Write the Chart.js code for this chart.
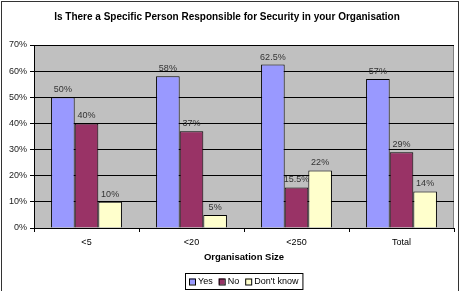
<!DOCTYPE html>
<html>
<head>
<meta charset="utf-8">
<style>
  html, body { margin: 0; padding: 0; background: #fff; }
  #wrap { position: relative; width: 463px; height: 291px; }
</style>
<script src="https://cdn.jsdelivr.net/npm/chart.js@4.4.0/dist/chart.umd.min.js"></script>
</head>
<body>
<div id="wrap"><canvas id="chart" width="463" height="291"></canvas></div>
<script>
// Organisation size groups
const categories = ['<5', '<20', '<250', 'Total'];
const seriesNames = ['Yes', 'No', "Don't know"];
const yesValues = [50, 58, 62.5, 57];
const noValues = [40, 37, 15.5, 29];
const dontKnowValues = [10, 5, 22, 14];
const yTicks = [0, 10, 20, 30, 40, 50, 60, 70];

const FONT = "'Liberation Sans', Arial, sans-serif";

// white page, outer frame, grey plot area
const frame = {
  id: 'frame',
  beforeDraw(chart) {
    const ctx = chart.ctx;
    const a = chart.chartArea;
    ctx.save();
    ctx.fillStyle = '#fff';
    ctx.fillRect(0, 0, chart.width, chart.height);
    ctx.strokeStyle = '#333';
    ctx.lineWidth = 1;
    ctx.strokeRect(1.5, 1.5, 457, 300);
    ctx.fillStyle = '#c0c0c0';
    ctx.fillRect(a.left, a.top, a.right - a.left, a.bottom - a.top);
    ctx.strokeStyle = '#808080';
    ctx.strokeRect(a.left + 0.5, a.top + 0.5, a.right - a.left - 1, a.bottom - a.top);
    ctx.restore();
  }
};

// percentage labels above each bar
const valueLabels = {
  id: 'valueLabels',
  afterDatasetsDraw(chart) {
    const ctx = chart.ctx;
    ctx.save();
    ctx.font = '9px ' + FONT;
    ctx.fillStyle = '#333';
    ctx.textAlign = 'center';
    ctx.textBaseline = 'bottom';
    chart.data.datasets.forEach((ds, i) => {
      chart.getDatasetMeta(i).data.forEach((bar, j) => {
        ctx.fillText(ds.data[j] + '%', bar.x, bar.y - 3);
      });
    });
    ctx.restore();
  }
};

// boxed legend under the axis title
const boxLegend = {
  id: 'boxLegend',
  afterDraw(chart) {
    const ctx = chart.ctx;
    const a = chart.chartArea;
    ctx.save();
    ctx.font = '9px ' + FONT;
    ctx.textBaseline = 'middle';
    const sq = 6, gap = 3, space = 6;
    let total = 0;
    chart.data.datasets.forEach(ds => {
      total += sq + gap + ctx.measureText(ds.label).width + space;
    });
    total -= space;
    const boxW = total + 8, boxH = 16;
    const bx = Math.round((a.left + a.right) / 2 - boxW / 2);
    const by = 273;
    ctx.fillStyle = '#fff';
    ctx.fillRect(bx, by, boxW, boxH);
    ctx.strokeStyle = '#000';
    ctx.lineWidth = 1;
    ctx.strokeRect(bx + 0.5, by + 0.5, boxW, boxH);
    let x = bx + 4;
    const cy = by + boxH / 2 + 0.5;
    chart.data.datasets.forEach(ds => {
      ctx.fillStyle = ds.backgroundColor;
      ctx.fillRect(x, cy - sq / 2, sq, sq);
      ctx.strokeRect(x + 0.5, cy - sq / 2 + 0.5, sq, sq);
      x += sq + gap;
      ctx.fillStyle = '#000';
      ctx.fillText(ds.label, x, cy);
      x += ctx.measureText(ds.label).width + space;
    });
    ctx.restore();
  }
};

new Chart(document.getElementById('chart'), {
  type: 'bar',
  data: {
    labels: categories,
    datasets: [
      { label: seriesNames[0], data: yesValues, backgroundColor: '#9999ff' },
      { label: seriesNames[1], data: noValues, backgroundColor: '#993366' },
      { label: seriesNames[2], data: dontKnowValues, backgroundColor: '#ffffcc' }
    ]
  },
  options: {
    responsive: false,
    animation: false,
    layout: { padding: { left: 0, right: 9, top: 0, bottom: 18 } },
    datasets: {
      bar: {
        categoryPercentage: 0.675,
        barPercentage: 1,
        borderColor: '#000',
        borderWidth: 1,
        borderSkipped: 'bottom'
      }
    },
    plugins: {
      legend: { display: false },
      tooltip: { enabled: false },
      title: {
        display: true,
        text: 'Is There a Specific Person Responsible for Security in your Organisation',
        color: '#000',
        font: { family: FONT, size: 10, weight: 'bold' },
        padding: { top: 11, bottom: 22 }
      }
    },
    scales: {
      x: {
        afterFit: s => { s.height = 45; },
        grid: { display: true, drawOnChartArea: false, offset: true, tickLength: 4, color: '#000' },
        border: { display: true, color: '#000' },
        ticks: { color: '#000', font: { family: FONT, size: 9 }, padding: 5 },
        title: {
          display: true,
          text: 'Organisation Size',
          color: '#000',
          font: { family: FONT, size: 9.5, weight: 'bold' },
          padding: { top: 0, bottom: 10 }
        }
      },
      y: {
        min: 0,
        max: 70,
        afterFit: s => { s.width = 34; },
        afterBuildTicks: s => { s.ticks = yTicks.map(v => ({ value: v })); },
        grid: { color: '#000', tickLength: 4 },
        border: { display: true, color: '#000' },
        ticks: {
          color: '#222',
          font: { family: FONT, size: 9 },
          padding: 3,
          callback: v => v + '%'
        }
      }
    }
  },
  plugins: [frame, valueLabels, boxLegend]
});
</script>
</body>
</html>
